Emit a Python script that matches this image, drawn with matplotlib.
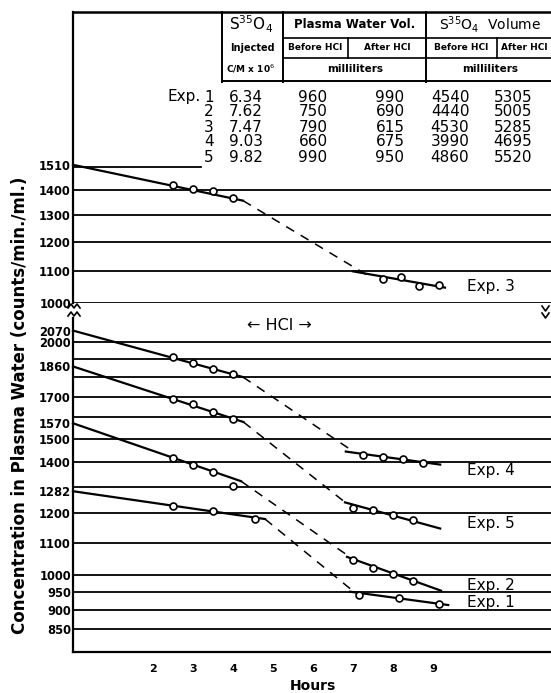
import numpy as np
import matplotlib.pyplot as plt
from matplotlib.lines import Line2D
from matplotlib.ticker import NullLocator

# ---- data ----
exp_names = ["Exp. 1", "Exp. 2", "Exp. 3", "Exp. 4", "Exp. 5"]
start_val = [1282, 1570, 1510, 2070, 1860]

pre_hours = [[2.5, 3.5, 4.55], [2.5, 3.0, 3.5, 4.0], [2.5, 3.0, 3.5, 4.0],
             [2.5, 3.0, 3.5, 4.0], [2.5, 3.0, 3.5, 4.0]]
pre_vals = [[1226, 1207, 1181], [1416, 1385, 1356, 1301], [1422, 1403, 1398, 1366],
            [1913, 1879, 1844, 1820], [1686, 1661, 1626, 1591]]
pre_end_h = [4.8, 4.2, 4.25, 4.25, 4.26]
pre_end_v = [1180, 1321, 1357, 1802, 1576]

dash_end_h = [7.0, 6.85, 7.35, 6.95, 6.84]
dash_end_v = [952, 1060, 1087, 1450, 1236]

post_hours = [[7.15, 8.15, 9.15], [7.0, 7.5, 8.0, 8.5], [7.75, 8.2, 8.65, 9.15],
              [7.25, 7.75, 8.25, 8.75], [7.0, 7.5, 8.0, 8.5]]
post_vals = [[942, 931, 915], [1044, 1019, 1003, 980], [1073, 1081, 1051, 1055],
             [1430, 1419, 1413, 1395], [1221, 1211, 1195, 1175]]
post_fit_h = [[6.93, 9.38], [6.85, 9.2], [7.0, 9.3], [6.82, 9.18], [6.8, 9.18]]
post_fit_v = [[950, 913], [1054, 953], [1099, 1047], [1443, 1388], [1240, 1147]]

label_vals = [921, 969, 1049, 1365, 1165]
in_top_panel = [False, False, True, False, False]

top_ticks = [1000, 1100, 1200, 1300, 1400, 1510]
top_grid = [1000, 1100, 1200, 1300, 1400]
bot_ticks = [850, 900, 950, 1000, 1100, 1200, 1282, 1400, 1500, 1570, 1700, 1860, 2000, 2070]
bot_grid = [850, 900, 950, 1000, 1100, 1200, 1300, 1400, 1500, 1600, 1700, 1800, 1900, 2000]
hour_ticks = [2, 3, 4, 5, 6, 7, 8, 9]

# table
injected = ["6.34", "7.62", "7.47", "9.03", "9.82"]
pw_before = ["960", "750", "790", "660", "990"]
pw_after = ["990", "690", "615", "675", "950"]
vol_before = ["4540", "4440", "4530", "3990", "4860"]
vol_after = ["5305", "5005", "5285", "4695", "5520"]

W, H = 551, 693
fig = plt.figure(figsize=(W / 100, H / 100), dpi=100)


def fx(px):
    return px / W


def fy(py):
    return 1 - py / H


def fline(xs, ys, **kw):
    fig.add_artist(Line2D([fx(x) for x in xs], [fy(y) for y in ys],
                          color="black", **kw))


DEC = 772.0  # pixels per decade
x_max = (W - 73) / 40.0

ax_top = fig.add_axes([fx(73), fy(303), fx(W) - fx(73), fy(12) - fy(303)])
ax_bot = fig.add_axes([fx(73), fy(652), fx(W) - fx(73), fy(318) - fy(652)])

for ax in (ax_top, ax_bot):
    ax.set_yscale("log")
    ax.set_xlim(0, x_max)
    ax.tick_params(axis="both", length=0, pad=1.5)
    ax.spines["right"].set_visible(False)
    ax.spines["left"].set_linewidth(1.6)

ax_top.set_ylim(1000, 10 ** (3 + 291 / DEC))
ax_bot.set_ylim(10 ** (np.log10(850) - 23 / DEC), 10 ** (np.log10(850) + 311 / DEC))

ax_top.spines["bottom"].set_visible(False)
ax_top.spines["top"].set_linewidth(1.8)
ax_bot.spines["top"].set_visible(False)
ax_bot.spines["bottom"].set_linewidth(1.6)

ax_top.set_xticks([])
ax_top.set_yticks(top_ticks, [str(t) for t in top_ticks], fontweight="bold", fontsize=8.3)
ax_bot.set_yticks(bot_ticks, [str(t) for t in bot_ticks], fontweight="bold", fontsize=8.3)
ax_bot.set_xticks(hour_ticks, [str(h) for h in hour_ticks], fontweight="bold", fontsize=8)
ax_bot.tick_params(axis="x", pad=9)
ax_top.yaxis.set_minor_locator(NullLocator())
ax_bot.yaxis.set_minor_locator(NullLocator())

for v in top_grid:
    ax_top.axhline(v, color="black", lw=1.3)
ax_top.plot([0, 3.2], [1500, 1500], color="black", lw=1.3)
for v in bot_grid:
    ax_bot.axhline(v, color="black", lw=1.3)

for i, name in enumerate(exp_names):
    ax = ax_top if in_top_panel[i] else ax_bot
    ax.plot([0, pre_end_h[i]], [start_val[i], pre_end_v[i]], color="black", lw=1.6,
            clip_on=False)
    ax.plot([pre_end_h[i], dash_end_h[i]], [pre_end_v[i], dash_end_v[i]], color="black",
            lw=1.1, linestyle=(0, (6, 5)))
    ax.plot(post_fit_h[i], post_fit_v[i], color="black", lw=1.6)
    ax.plot(pre_hours[i], pre_vals[i], "o", ms=5, mfc="white", mec="black", mew=1.2, zorder=5)
    ax.plot(post_hours[i], post_vals[i], "o", ms=5, mfc="white", mec="black", mew=1.2, zorder=5)
    ax.text(9.85, label_vals[i], name, fontsize=11, va="center", ha="left")

ax_bot.text(5.15, 2102, "\u2190 HCl \u2192", fontsize=11.5, ha="center", va="center")

# axis labels
fig.text(fx(313), fy(686), "Hours", fontsize=10, fontweight="bold", ha="center", va="center")
fig.text(fx(20), fy(405), "Concentration in Plasma Water (counts/min./ml.)", fontsize=12,
         fontweight="bold", rotation=90, ha="center", va="center")

# axis break marks
for yb in (306, 314):
    fline([68, 71, 74, 77, 80], [yb + 2, yb - 2, yb + 2, yb - 2, yb + 2], lw=1.2)
for yb in (309, 316):
    fline([542, 545.5, 549], [yb - 3, yb + 2, yb - 3], lw=1.2)

# table header lines
fline([222, 222], [12, 82], lw=1.4)
fline([283, 283], [12, 82], lw=1.4)
fline([426, 426], [12, 82], lw=1.4)
fline([283, W], [38, 38], lw=1.2)
fline([283, W], [58, 58], lw=1.2)
fline([222, W], [81, 81], lw=1.4)
fline([348, 348], [38, 58], lw=1.2)
fline([497, 497], [38, 58], lw=1.2)

hdr = dict(ha="center", va="center", fontweight="bold")
fig.text(fx(251), fy(24), r"S$^{35}$O$_4$", fontsize=11, ha="center", va="center")
fig.text(fx(355), fy(24), "Plasma Water Vol.", fontsize=8.5, **hdr)
fig.text(fx(490), fy(24), r"S$^{35}$O$_4$  Volume", fontsize=10, ha="center", va="center")
fig.text(fx(252), fy(48), "Injected", fontsize=7, **hdr)
fig.text(fx(315), fy(48), "Before HCl", fontsize=6.5, **hdr)
fig.text(fx(387), fy(48), "After HCl", fontsize=6.5, **hdr)
fig.text(fx(461), fy(48), "Before HCl", fontsize=6.5, **hdr)
fig.text(fx(524), fy(48), "After HCl", fontsize=6.5, **hdr)
fig.text(fx(251), fy(69), r"C/M x 10$^6$", fontsize=6.5, **hdr)
fig.text(fx(355), fy(69), "milliliters", fontsize=7.5, **hdr)
fig.text(fx(490), fy(69), "milliliters", fontsize=7.5, **hdr)

row_y = [97, 112, 127, 142, 157]
fig.text(fx(201), fy(row_y[0]), "Exp.", fontsize=11, ha="right", va="center")
for i in range(5):
    y = fy(row_y[i])
    fig.text(fx(214), y, str(i + 1), fontsize=11, ha="right", va="center")
    fig.text(fx(246), y, injected[i], fontsize=11, ha="center", va="center")
    fig.text(fx(313), y, pw_before[i], fontsize=11, ha="center", va="center")
    fig.text(fx(390), y, pw_after[i], fontsize=11, ha="center", va="center")
    fig.text(fx(450), y, vol_before[i], fontsize=11, ha="center", va="center")
    fig.text(fx(513), y, vol_after[i], fontsize=11, ha="center", va="center")

fig.savefig("out.png", dpi=100)
